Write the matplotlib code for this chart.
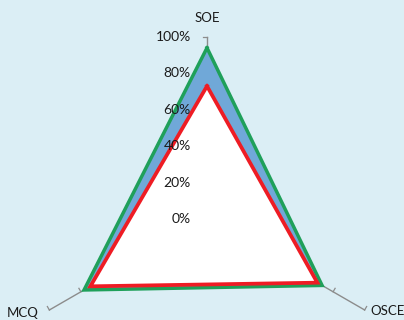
import numpy as np
import matplotlib.pyplot as plt

# radar chart data (SOE top, OSCE lower right, MCQ lower left)
categories = ['SOE', 'OSCE', 'MCQ']
outer_vals = [0.94, 0.73, 0.78]   # green outline, blue fill
inner_vals = [0.73, 0.70, 0.74]   # red outline, white fill
tick_vals = [0.0, 0.2, 0.4, 0.6, 0.8, 1.0]
tick_labels = ['0%', '20%', '40%', '60%', '80%', '100%']

bg = '#dbeef5'
angles = np.deg2rad([0, 120, 240])  # clockwise from top


def to_xy(vals):
    vals = np.asarray(vals)
    x = vals * np.sin(angles)
    y = vals * np.cos(angles)
    return np.append(x, x[0]), np.append(y, y[0])


fig = plt.figure(figsize=(4.04, 3.2), dpi=100)
fig.patch.set_facecolor(bg)
ax = fig.add_axes([0, 0, 1, 1])
ax.set_facecolor(bg)
ax.set_xlim(-1.137, 1.082)
ax.set_ylim(-0.555, 1.203)
ax.set_aspect('equal')
ax.axis('off')

# spokes and tick marks
tick_len = 0.022
for i, a in enumerate(angles):
    d = np.array([np.sin(a), np.cos(a)])
    ax.plot([0, d[0]], [0, d[1]], color='#8c8c8c', lw=1.0, zorder=1)
    if i == 0:
        perp = np.array([-1.0, 0.0])
    elif i == 1:
        perp = np.array([0.5, 0.866])
    else:
        perp = np.array([-0.5, 0.866])
    for t in tick_vals[1:]:
        p = d * t
        ax.plot([p[0], p[0] + perp[0] * tick_len], [p[1], p[1] + perp[1] * tick_len],
                color='#8c8c8c', lw=0.9, zorder=1)

# series
xo, yo = to_xy(outer_vals)
xi, yi = to_xy(inner_vals)
ax.fill(xo, yo, color='#70a8d8', zorder=2)
ax.plot(xo, yo, color='#1fa05a', lw=2.5, solid_joinstyle='miter', zorder=3)
ax.fill(xi, yi, color='white', zorder=4)
ax.plot(xi, yi, color='#ee1c24', lw=2.7, solid_joinstyle='miter', zorder=5)

# radial tick labels
for t, lab in zip(tick_vals, tick_labels):
    ax.text(-0.088, t, lab, ha='right', va='center', fontsize=10,
            family='Lato', color='#1a1a1a', zorder=6)

# category labels
ax.text(0, 1.105, categories[0], ha='center', va='center', fontsize=9.5, family='Lato', color='#1a1a1a')
ax.text(0.99, -0.505, categories[1], ha='center', va='center', fontsize=9.5, family='Lato', color='#1a1a1a')
ax.text(-1.015, -0.515, categories[2], ha='center', va='center', fontsize=9.5, family='Lato', color='#1a1a1a')

plt.savefig('out.png', dpi=100, facecolor=bg)
